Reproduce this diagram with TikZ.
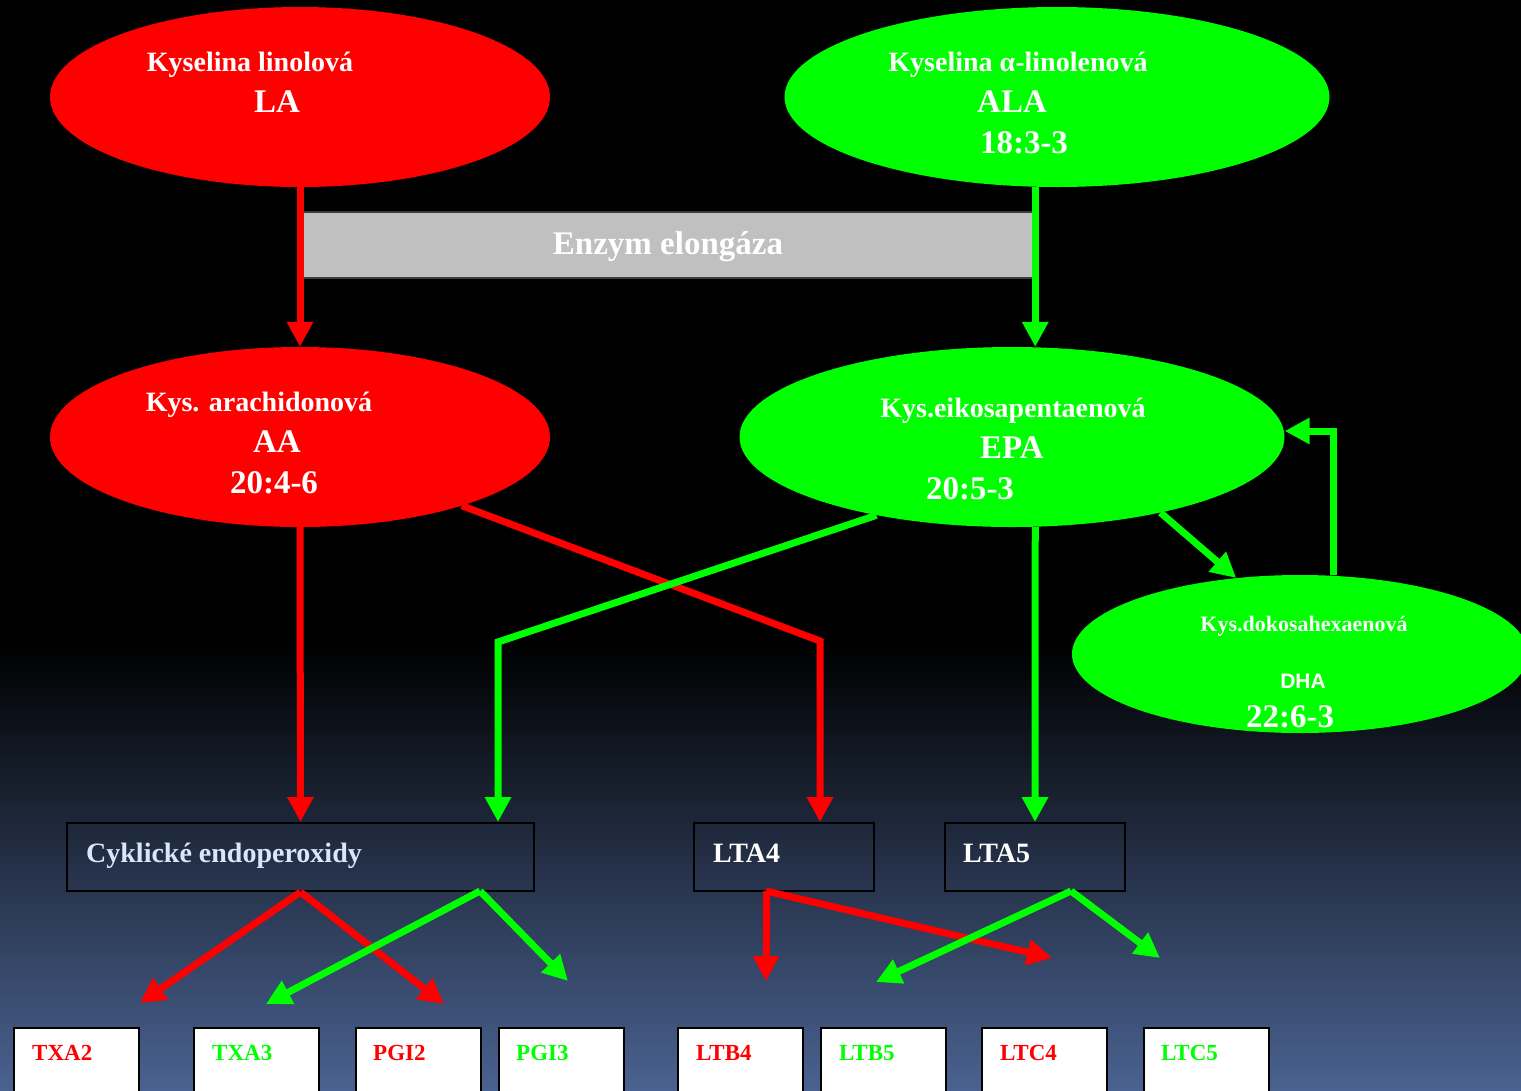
\documentclass[tikz,border=0pt]{standalone}
\usepackage{fontspec}
\setmainfont{Liberation Serif}
\newfontfamily\dsans{Liberation Sans}
\usetikzlibrary{shapes.geometric,arrows.meta}
\definecolor{rd}{HTML}{FF0000}
\definecolor{gr}{HTML}{00FF00}
\definecolor{bgb}{HTML}{4A6290}
\definecolor{lb}{HTML}{D6E8FA}
\begin{document}
\begin{tikzpicture}[x=1pt,y=-1pt,
  ell/.style={ellipse,draw=none,inner sep=0pt},
  lbl/.style={font=\bfseries\fontsize{28}{30}\selectfont,text=white,anchor=base,inner sep=0pt},
  abbr/.style={font=\bfseries\fontsize{33}{35}\selectfont,text=white,anchor=base,inner sep=0pt},
  arr/.style={line width=7pt,line join=miter,-{Triangle[length=25pt,width=25pt]}},
  ra/.style={arr,draw=rd},
  ga/.style={arr,draw=gr},
  midbox/.style={draw=black,line width=2pt,fill=none,minimum height=68pt,inner sep=0pt},
  leaf/.style={draw=black,line width=2pt,fill=white,minimum width=125pt,minimum height=72pt,anchor=north west,inner sep=0pt},
  leaftxt/.style={font=\bfseries\fontsize{23}{25}\selectfont,anchor=base west,inner sep=0pt}
]
\useasboundingbox (0,0) rectangle (1521,1090);
\fill[black] (0,0) rectangle (1521,645);
\shade[top color=black,bottom color=bgb] (0,644) rectangle (1521,1090);

% ellipses
\node[ell,fill=rd,minimum width=500pt,minimum height=180pt] (la) at (300,97) {};
\node[ell,fill=gr,minimum width=545pt,minimum height=180pt] (ala) at (1057,97) {};
\node[ell,fill=rd,minimum width=500pt,minimum height=180pt] (aa) at (300,437) {};
\node[ell,fill=gr,minimum width=545pt,minimum height=180pt] (epa) at (1012,437) {};
\node[ell,fill=gr,minimum width=456pt,minimum height=158pt] (dha) at (1300,654) {};

\node[lbl] (la1) at (250,71) {Kyselina linolová};
\node[abbr] (la2) at (277,112) {LA};
\node[lbl] (ala1) at (1018,71) {Kyselina α-linolenová};
\node[abbr] (ala2) at (1012,112) {ALA};
\node[abbr] (ala3) at (1024,153) {18:3-3};
\node[lbl] (aa1) at (259,411) {Kys. arachidonová};
\node[abbr] (aa2) at (277,452) {AA};
\node[abbr] (aa3) at (274,493) {20:4-6};
\node[lbl] (epa1) at (1013,417) {Kys.eikosapentaenová};
\node[abbr] (epa2) at (1012,458) {EPA};
\node[abbr] (epa3) at (970,499) {20:5-3};
\node[lbl,font=\bfseries\fontsize{22}{24}\selectfont] (dha1) at (1304,631) {Kys.dokosahexaenová};
\node[lbl,font=\dsans\bfseries\fontsize{21}{23}\selectfont] (dha2) at (1303,688) {DHA};
\node[abbr] (dha3) at (1290,727) {22:6-3};

% enzyme box
\node[draw={rgb,255:red,60;green,60;blue,60},line width=1.5pt,fill={rgb,255:red,192;green,192;blue,192},
  minimum width=734pt,minimum height=66pt,inner sep=0pt] (enz) at (667.5,245) {};
\node[font=\bfseries\fontsize{33}{35}\selectfont,text=white,anchor=base,inner sep=0pt] (enzt) at (668,254) {Enzym elongáza};

% middle boxes
\node[midbox,minimum width=467pt] (cyk) at (300.5,857) {};
\node[midbox,minimum width=180pt] (lta4) at (784,857) {};
\node[midbox,minimum width=180pt] (lta5) at (1035,857) {};
\node[lbl,anchor=base west,text=lb] (cykt) at (86,862) {Cyklické endoperoxidy};
\node[lbl,anchor=base west] (lta4t) at (713,862) {LTA4};
\node[lbl,anchor=base west] (lta5t) at (963,862) {LTA5};

% leaves
\node[leaf] (txa2) at (13,1027) {};
\node[leaf] (txa3) at (193,1027) {};
\node[leaf] (pgi2) at (355,1027) {};
\node[leaf] (pgi3) at (498,1027) {};
\node[leaf] (ltb4) at (677,1027) {};
\node[leaf] (ltb5) at (820,1027) {};
\node[leaf] (ltc4) at (981,1027) {};
\node[leaf] (ltc5) at (1143,1027) {};
\node[leaftxt,text=rd] (txa2t) at (32,1060) {TXA2};
\node[leaftxt,text=gr] (txa3t) at (212,1060) {TXA3};
\node[leaftxt,text=rd] (pgi2t) at (373,1060) {PGI2};
\node[leaftxt,text=gr] (pgi3t) at (516,1060) {PGI3};
\node[leaftxt,text=rd] (ltb4t) at (696,1060) {LTB4};
\node[leaftxt,text=gr] (ltb5t) at (839,1060) {LTB5};
\node[leaftxt,text=rd] (ltc4t) at (1000,1060) {LTC4};
\node[leaftxt,text=gr] (ltc5t) at (1161,1060) {LTC5};

% coordinates
\coordinate (b1) at (820,641);
\coordinate (b2) at (498,642);
\coordinate (c1) at (1333,431);
\coordinate (s2) at (480,891);
\coordinate (s3) at (766,891);
\coordinate (s4) at (1071,891);
\coordinate (t1) at (140,1003);
\coordinate (t2) at (444,1004);
\coordinate (t3) at (266,1004);
\coordinate (t4) at (568,981);
\coordinate (t5) at (766,981);
\coordinate (t6) at (1052,958);
\coordinate (t7) at (876,982);
\coordinate (t8) at (1160,958);

% upper connectors
\draw[ra] (la.south) -- (aa.north);
\draw[ga] (enz.east |- ala.south) -- (enz.east |- epa.north);
\draw[ra] (aa.south) -- (cyk.north);
\draw[ra] (aa.-23) -- (b1) -- (b1 |- lta4.north);
\draw[ga] (epa.-150) -- (b2) -- (b2 |- cyk.north);
\draw[ga] (epa.-27) -- (dha.130);
\draw[ga] (dha.north -| c1) -- (c1) -- (epa.east |- c1);
\draw[ga] (enz.east |- epa.south) -- (lta5.north);

% lower connectors
\draw[ra] (cyk.south) -- (t1);
\draw[ra] (cyk.south) -- (t2);
\draw[ga] (s2) -- (t3);
\draw[ga] (s2) -- (t4);
\draw[ra] (s3) -- (t5);
\draw[ra] (s3) -- (t6);
\draw[ga] (s4) -- (t7);
\draw[ga] (s4) -- (t8);
\end{tikzpicture}
\end{document}
